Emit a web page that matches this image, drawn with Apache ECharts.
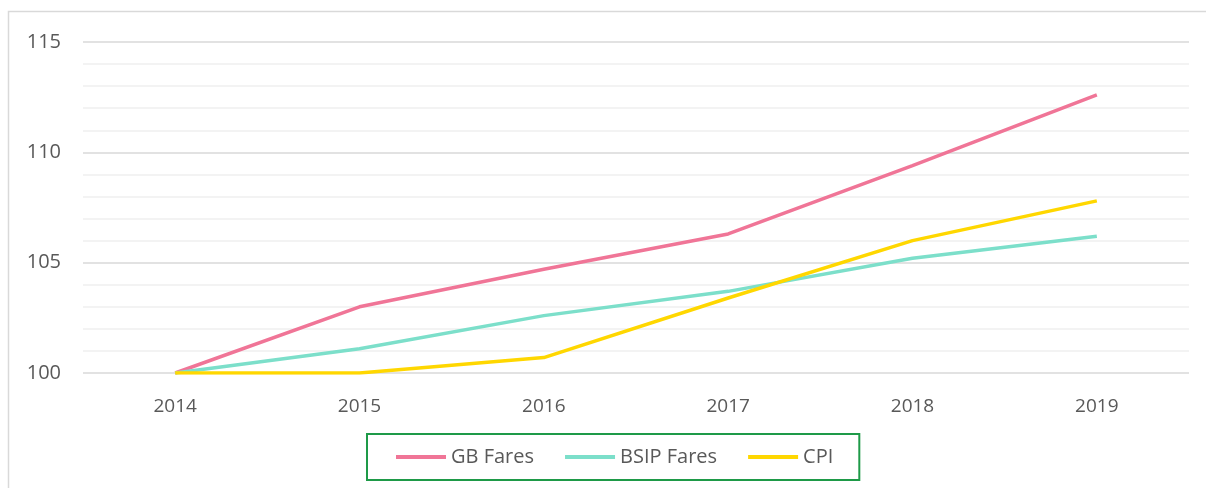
<!DOCTYPE html>
<html>
<head>
<meta charset="utf-8">
<script src="https://cdn.jsdelivr.net/npm/echarts@6/dist/echarts.min.js"></script>
<style>
  html, body { margin: 0; padding: 0; background: #fff; }
  #chart { width: 1206px; height: 488px; }
</style>
</head>
<body>
<div id="chart"></div>
<script>
const years = ['2014', '2015', '2016', '2017', '2018', '2019']
const gbFares = [100, 103.0, 104.7, 106.3, 109.4, 112.6]
const bsipFares = [100, 101.1, 102.6, 103.7, 105.2, 106.2]
const cpi = [100, 100.0, 100.7, 103.4, 106.0, 107.8]

const chart = echarts.init(document.getElementById('chart'))

const lineSeries = (name, data, color) => ({
  name,
  type: 'line',
  data,
  showSymbol: false,
  symbol: 'none',
  itemStyle: { color },
  lineStyle: { color, width: 3.5 },
  animation: false
})

chart.setOption({
  textStyle: { fontFamily: 'Open Sans' },
  graphic: [
    {
      type: 'rect',
      shape: { x: 8.5, y: 11.5, width: 1220, height: 500 },
      style: { fill: 'none', stroke: '#d9d9d9', lineWidth: 1.5 },
      silent: true
    }
  ],
  grid: { left: 83, right: 17, top: 42, bottom: 115 },
  xAxis: {
    type: 'category',
    data: years,
    boundaryGap: true,
    axisLine: { show: false },
    axisTick: { show: false },
    axisLabel: { color: '#595959', fontSize: 19, margin: 24 }
  },
  yAxis: {
    type: 'value',
    min: 100,
    max: 115,
    interval: 5,
    axisLine: { show: false },
    axisTick: { show: false },
    axisLabel: { color: '#595959', fontSize: 20, margin: 22 },
    splitLine: { lineStyle: { color: '#d9d9d9', width: 1.5 } },
    minorTick: { show: false, splitNumber: 5 },
    minorSplitLine: { show: true, lineStyle: { color: '#f0f0f0', width: 1.5 } }
  },
  legend: {
    data: ['GB Fares', 'BSIP Fares', 'CPI'],
    left: 367,
    top: 434,
    padding: [13, 26, 13, 29],
    itemGap: 31,
    itemWidth: 50,
    itemHeight: 4,
    icon: 'rect',
    borderColor: '#1e9a48',
    borderWidth: 2,
    textStyle: { color: '#595959', fontSize: 20 }
  },
  series: [
    lineSeries('GB Fares', gbFares, '#f07597'),
    lineSeries('BSIP Fares', bsipFares, '#7cdfca'),
    lineSeries('CPI', cpi, '#ffd700')
  ]
})
</script>
</body>
</html>
